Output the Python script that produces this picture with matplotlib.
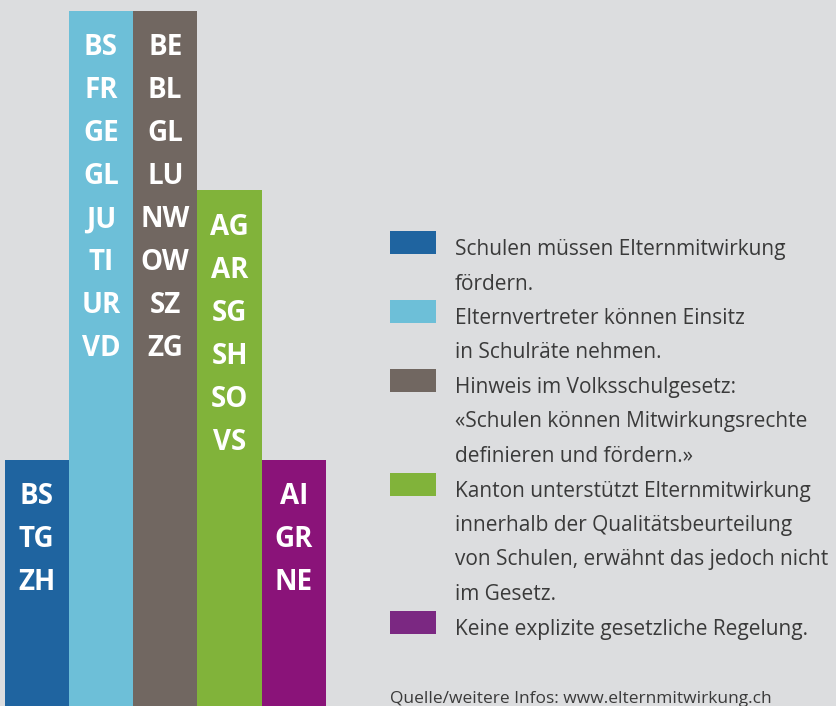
import matplotlib.pyplot as plt
from matplotlib.patches import Rectangle

# Cantons per category
kantone = [
    ["BS", "TG", "ZH"],
    ["BS", "FR", "GE", "GL", "JU", "TI", "UR", "VD"],
    ["BE", "BL", "GL", "LU", "NW", "OW", "SZ", "ZG"],
    ["AG", "AR", "SG", "SH", "SO", "VS"],
    ["AI", "GR", "NE"],
]
counts = [len(k) for k in kantone]
colors = ["#1f64a0", "#6dbfd8", "#716761", "#81b33a", "#8a1379"]
legend_colors = ["#1f64a0", "#6dbfd8", "#716761", "#81b33a", "#7b2882"]
legend_lines = [
    ["Schulen müssen Elternmitwirkung", "fördern."],
    ["Elternvertreter können Einsitz", "in Schulräte nehmen."],
    ["Hinweis im Volksschulgesetz:", "«Schulen können Mitwirkungsrechte",
     "definieren und fördern.»"],
    ["Kanton unterstützt Elternmitwirkung", "innerhalb der Qualitätsbeurteilung",
     "von Schulen, erwähnt das jedoch nicht", "im Gesetz."],
    ["Keine explizite gesetzliche Regelung."],
]
quelle = "Quelle/weitere Infos: www.elternmitwirkung.ch"

W, H = 837, 706
bg = "#dcdddf"
plt.rcParams['font.family'] = ['Open Sans', 'DejaVu Sans']

fig = plt.figure(figsize=(W / 100, H / 100), dpi=100, facecolor=bg)

# bar area
ax = fig.add_axes([4.5 / W, 0, 5 * 64.3 / W, 1])
ax.set_facecolor(bg)
x = range(len(counts))
ax.bar(x, counts, width=1.0, color=colors, linewidth=0)
ax.set_xlim(-0.5, len(counts) - 0.5)
ax.set_ylim(0.26, 8.12)
ax.axis("off")

for i, names in enumerate(kantone):
    for k, name in enumerate(names):
        ax.annotate(name, xy=(i, counts[i]), xytext=(0, -37 - 43 * k),
                    textcoords="offset pixels", ha="center", va="center",
                    fontsize=20, fontweight="bold", color="white")

# legend drawn by hand
def fx(px):
    return px / W

def fy(py):
    return 1 - py / H

line = 0
for col, lines in zip(legend_colors, legend_lines):
    base = 255 + 34.5 * line
    fig.patches.append(Rectangle((fx(390), fy(base - 1)), 46 / W, 23 / H,
                                 transform=fig.transFigure, facecolor=col,
                                 edgecolor="none"))
    for t in lines:
        fig.text(fx(455), fy(255 + 34.5 * line), t, fontsize=15,
                 color="#3a3a3a", va="baseline", ha="left")
        line += 1

fig.text(fx(390), fy(703), quelle, fontsize=12.5, color="#3a3a3a",
         va="baseline", ha="left")

fig.savefig("out.png", dpi=100, facecolor=bg)
